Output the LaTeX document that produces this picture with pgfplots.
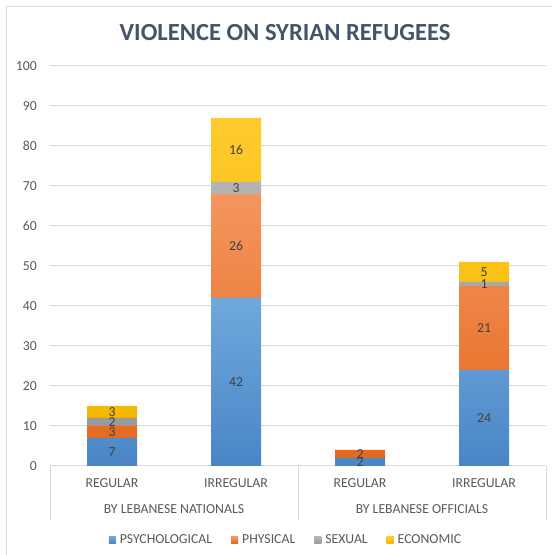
\documentclass[border=0pt]{standalone}
\usepackage{fontspec}
\setmainfont{Carlito}
\usepackage{pgfplots}
\pgfplotsset{compat=1.18}
\definecolor{gridc}{HTML}{D9D9D9}
\definecolor{txt}{HTML}{595959}
\definecolor{ttl}{HTML}{44546A}
\definecolor{lbl}{HTML}{404040}
\definecolor{bluT}{HTML}{6FA8DD}
\definecolor{bluB}{HTML}{4A86C6}
\definecolor{bluL}{HTML}{5B9BD5}
\definecolor{orT}{HTML}{F4965F}
\definecolor{orB}{HTML}{E3681C}
\definecolor{orL}{HTML}{ED7D31}
\definecolor{grT}{HTML}{B4B4B4}
\definecolor{grB}{HTML}{9A9A9A}
\definecolor{grL}{HTML}{A5A5A5}
\definecolor{goT}{HTML}{FFCB2E}
\definecolor{goB}{HTML}{F5B800}
\definecolor{goL}{HTML}{FFC000}
\newcommand{\sm}{\fontsize{13.8}{16}\selectfont}
\begin{document}
\begin{tikzpicture}[x=1bp,y=1bp]
\useasboundingbox (0,0) rectangle (552,555);
\draw[gridc, line width=1bp] (6.5,0) -- (6.5,548.5) -- (552,548.5);
\node[font=\fontsize{24.7}{28}\selectfont\bfseries, text=ttl] at (285,522) {VIOLENCE ON SYRIAN REFUGEES};
\begin{axis}[
  at={(50bp,89bp)}, anchor=south west,
  width=496bp, height=400bp, scale only axis,
  ybar stacked, bar width=50bp,
  xmin=-0.5, xmax=3.5, ymin=0, ymax=100,
  ytick={0,10,...,100},
  xtick={0,1,2,3}, xticklabels={REGULAR,IRREGULAR,REGULAR,IRREGULAR},
  axis line style={draw=none},
  major tick length=0pt,
  ymajorgrids, grid style={gridc, line width=1bp},
  /pgf/number format/assume math mode=true,
  tick label style={font=\sm, text=txt},
  yticklabel style={anchor=east, inner sep=0pt, xshift=-13bp},
  xticklabel style={anchor=center, inner sep=0pt, yshift=-17bp},
  clip=false,
  point meta=rawy,
  nodes near coords={\pgfmathfloatifflags{\pgfplotspointmeta}{0}{}{\pgfmathprintnumber{\pgfplotspointmeta}}},
  every node near coord/.append style={anchor=center, inner sep=0pt, font=\sm, text=lbl},
  legend columns=4,
  legend style={at={(0.4738,-0.185)}, anchor=center, draw=none, fill=none, font=\sm, text=txt,
    inner sep=0pt,
    nodes={inner sep=0pt},
    /tikz/every odd column/.append style={column sep=4bp},
    /tikz/every even column/.append style={column sep=19bp}},
]
\addplot[draw=none, top color=bluT, bottom color=bluB,
  legend image code/.code={\fill[bluL] (0bp,-3.5bp) rectangle (7bp,3.5bp);}]
  coordinates {(0,7) (1,42) (2,2) (3,24)};
\addlegendentry{PSYCHOLOGICAL}
\addplot[draw=none, top color=orT, bottom color=orB,
  legend image code/.code={\fill[orL] (0bp,-3.5bp) rectangle (7bp,3.5bp);}]
  coordinates {(0,3) (1,26) (2,2) (3,21)};
\addlegendentry{PHYSICAL}
\addplot[draw=none, top color=grT, bottom color=grB,
  legend image code/.code={\fill[grL] (0bp,-3.5bp) rectangle (7bp,3.5bp);}]
  coordinates {(0,2) (1,3) (2,0) (3,1)};
\addlegendentry{SEXUAL}
\addplot[draw=none, top color=goT, bottom color=goB,
  legend image code/.code={\fill[goL] (0bp,-3.5bp) rectangle (7bp,3.5bp);}]
  coordinates {(0,3) (1,16) (2,0) (3,5)};
\addlegendentry{ECONOMIC}
\draw[gridc, line width=1bp] (axis cs:-0.5,0) -- ++(0bp,-54bp);
\draw[gridc, line width=1bp] (axis cs:1.5,0) -- ++(0bp,-54bp);
\draw[gridc, line width=1bp] (axis cs:3.5,0) -- ++(0bp,-54bp);
\node[font=\sm, text=txt] at (axis cs:0.5,0) [yshift=-43bp] {BY LEBANESE NATIONALS};
\node[font=\sm, text=txt] at (axis cs:2.5,0) [yshift=-43bp] {BY LEBANESE OFFICIALS};
\end{axis}
\end{tikzpicture}
\end{document}
